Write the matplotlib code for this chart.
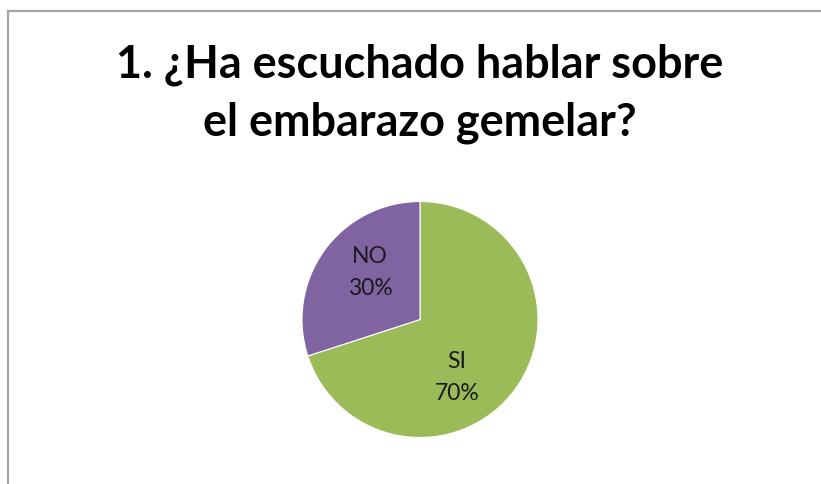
import matplotlib
matplotlib.use("Agg")
import matplotlib.pyplot as plt
from matplotlib.lines import Line2D

categories = ["SI", "NO"]
values = [70, 30]
colors = ["#9BBB59", "#8064A2"]
title_lines = ["1. ¿Ha escuchado hablar sobre", "el embarazo gemelar?"]

W, H = 821, 485
fig = plt.figure(figsize=(W / 100, H / 100), dpi=100)
fig.patch.set_facecolor("white")
FONT = ["Lato", "DejaVu Sans"]

# border (left and top visible)
fig.add_artist(Line2D([7.5 / W, 7.5 / W], [0, 1 - 11.5 / H], color="#a6a6a6", lw=1.6, transform=fig.transFigure))
fig.add_artist(Line2D([7.5 / W, 1], [1 - 11.5 / H, 1 - 11.5 / H], color="#a6a6a6", lw=1.6, transform=fig.transFigure))

cx, cy, r = 420, 320.5, 118
ax = fig.add_axes([(cx - r) / W, (H - cy - r) / H, 2 * r / W, 2 * r / H])
wedges, _ = ax.pie(values, colors=colors, startangle=90, counterclock=False, radius=1,
                   wedgeprops=dict(linewidth=0.8, edgecolor="white"))
ax.set_xlim(-1, 1)
ax.set_ylim(-1, 1)
ax.set_aspect("equal")
ax.axis("off")

# label anchor (pixel offsets from pie centre: x, baseline of first line)
label_px = [(457, 368), (370, 263)]
line_gap = 32
for (px, py), cat, v in zip(label_px, categories, values):
    for k, s in enumerate([cat, f"{v}%"]):
        ax.text((px - cx) / r, -(py + k * line_gap - cy) / r, s, ha="center", va="baseline",
                fontsize=16.5, family=FONT, color="#1a1a1a")

for s, base in zip(title_lines, [77, 136]):
    fig.text(419.5 / W, 1 - base / H, s, ha="center", va="baseline", fontsize=32.4,
             fontweight="bold", family=FONT)

fig.savefig("out.png", dpi=100)
